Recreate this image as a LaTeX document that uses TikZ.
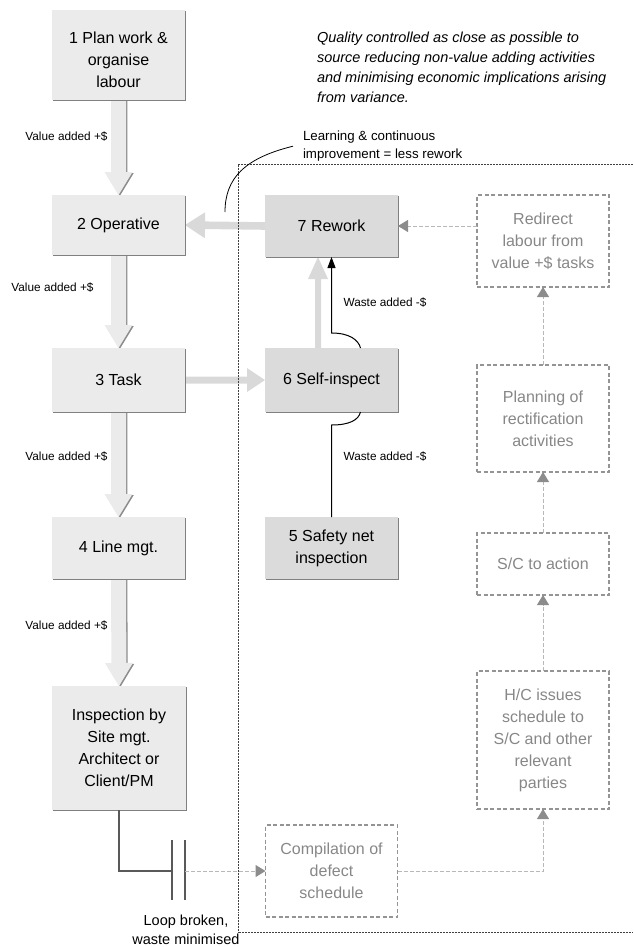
\documentclass[tikz,border=0pt]{standalone}
\usepackage{fontspec}
\setmainfont{Liberation Sans}
\usetikzlibrary{arrows.meta,shadows,calc,backgrounds}
\newcommand\blkarrow[6]{%
  \coordinate (tmph) at ($(#2)!#5!(#1)$);
  \fill[#6] ($(#1)!#3!-90:(#2)$) -- ($(tmph)!#3!-90:(#2)$) -- ($(tmph)!#4!-90:(#2)$) -- (#2)
    -- ($(tmph)!#4!90:(#2)$) -- ($(tmph)!#3!90:(#2)$) -- ($(#1)!#3!90:(#2)$) -- cycle;}
\begin{document}
\begin{tikzpicture}[x=1pt,y=-1pt,
  every node/.style={inner sep=0pt,outer sep=0pt},
  boxtext/.style={font=\fontsize{16}{22}\selectfont,align=center},
  lbox/.style={boxtext,rectangle,minimum width=133pt,fill=black!8,
    drop shadow={shadow xshift=1.4pt,shadow yshift=-1.4pt,fill=black!50,opacity=1}},
  rbox/.style={boxtext,rectangle,minimum width=133pt,fill=black!14,
    drop shadow={shadow xshift=1.4pt,shadow yshift=-1.4pt,fill=black!50,opacity=1}},
  dbox/.style={boxtext,rectangle,minimum width=132pt,draw=black!42,line width=1.3pt,
    dash pattern=on 4pt off 2.5pt,text=black!47},
  lab/.style={font=\fontsize{11.8}{14}\selectfont},
  dasharrow/.style={draw=black!28,line width=1pt,dash pattern=on 4pt off 2pt,
    -{Triangle[width=12pt,length=10pt,color=black!45]}},
  blkline/.style={draw=black,line width=1pt},
  darkline/.style={draw=black!65,line width=1.1pt},
  frame/.style={draw=black!75,line width=0.6pt,dash pattern=on 0.6pt off 0.9pt}]
\useasboundingbox (0,0) rectangle (633,947);

% dotted frame
\draw[frame] (633,164) -- (238,164) -- (238,932) -- (633,932);

% left column
\node[lbox,minimum height=90pt] (b1) at (118.5,55) {\rule{0pt}{21.5pt}1 Plan work \&\\organise\\labour};
\node[lbox,minimum height=60pt] (b2) at (118.5,225) {2 Operative};
\node[lbox,minimum height=64pt] (b3) at (118.5,380) {3 Task};
\node[lbox,minimum height=62pt] (b4) at (118.5,548) {4 Line mgt.};
\node[lbox,minimum height=124pt,minimum width=134pt] (b5) at (119,748) {Inspection by\\Site mgt.\\Architect or\\Client/PM};

% middle column
\node[rbox,minimum height=62pt] (b7) at (331.5,226) {7 Rework};
\node[rbox,minimum height=64pt] (b6) at (331.5,380) {6 Self-inspect};
\node[rbox,minimum height=62pt] (b8) at (331.5,548) {5 Safety net\\inspection};

% right column (dashed)
\node[dbox,minimum height=92pt] (d1) at (543,241) {Redirect\\labour from\\value +\$ tasks};
\node[dbox,minimum height=107pt] (d2) at (543,418.5) {Planning of\\rectification\\activities};
\node[dbox,minimum height=62pt] (d3) at (543,564) {S/C to action};
\node[dbox,minimum height=138pt] (d4) at (543,740) {H/C issues\\schedule to\\S/C and other\\relevant\\parties};
\node[dbox,minimum height=92pt] (d5) at (331.5,871) {Compilation of\\defect\\schedule};

% texts
\node[anchor=north west,align=left,font=\itshape\fontsize{14.5}{20}\selectfont] (q) at (317,32)
  {Quality controlled as close as possible to\\source reducing non-value adding activities\\and minimising economic implications arising\\from variance.};
\node[anchor=north west,align=left,font=\fontsize{13.3}{18}\selectfont] (learn) at (303,131)
  {Learning \& continuous\\improvement = less rework};
\node[lab] (v1) at (66.5,137) {Value added +\$};
\node[lab] (v2) at (52.5,288) {Value added +\$};
\node[lab] (v3) at (66.5,457) {Value added +\$};
\node[lab] (v4) at (66.5,626) {Value added +\$};
\node[lab] (w1) at (385,303) {Waste added -\$};
\node[lab] (w2) at (385,457) {Waste added -\$};
\node[align=center,font=\fontsize{14.5}{19}\selectfont] (loop) at (186,930) {Loop broken,\\waste minimised};

% block arrows
\begin{scope}[on background layer]
  \begin{scope}[transform canvas={shift={(1.3pt,-1pt)}}]
    \blkarrow{b1.south}{b2.north}{7.5pt}{14pt}{23pt}{black!45}
    \blkarrow{b2.south}{b3.north}{7.5pt}{14pt}{23pt}{black!45}
    \blkarrow{b3.south}{b4.north}{7.5pt}{14pt}{23pt}{black!45}
    \blkarrow{b4.south}{b5.north}{7.5pt}{14pt}{23pt}{black!45}
  \end{scope}
  \blkarrow{b1.south}{b2.north}{7.5pt}{14pt}{23pt}{black!8}
  \blkarrow{b2.south}{b3.north}{7.5pt}{14pt}{23pt}{black!8}
  \blkarrow{b3.south}{b4.north}{7.5pt}{14pt}{23pt}{black!8}
  \blkarrow{b4.south}{b5.north}{7.5pt}{14pt}{23pt}{black!8}
  \blkarrow{b7.west}{b2.east}{3.8pt}{13pt}{20pt}{black!15}
  \blkarrow{b3.east}{b6.west}{3.5pt}{12pt}{18pt}{black!15}
  \coordinate (a6) at ($(b6.north)+(-13.5,0)$);
  \coordinate (a7) at ($(b7.south)+(-13.5,0)$);
  \blkarrow{a6}{a7}{3pt}{10pt}{22pt}{black!15}
\end{scope}

% black waste connector with hops
\draw[blkline] (b8.north) -- ($(b6.south)+(0,13)$)
  .. controls ($(b6.south)+(18,13)$) and ($(b6.south)+(27,8)$) .. ($(b6.south)+(29,0)$);
\draw[blkline,-{Triangle[width=8pt,length=11pt]}] ($(b6.north)+(29,0)$)
  .. controls ($(b6.north)+(27,-8)$) and ($(b6.north)+(18,-15)$) .. ($(b6.north)+(0,-15)$) -- (b7.south);

% learning curve
\coordinate (lc) at (225,212);
\draw[blkline,line width=0.8pt] (lc) .. controls (225,178) and (245,158) .. ([xshift=-10pt]learn.west);

% dashed flow
\draw[dasharrow] (d1.west |- b7.east) -- (b7.east);
\draw[dasharrow] (d2.north) -- (d1.south);
\draw[dasharrow] (d3.north) -- (d2.south);
\draw[dasharrow] (d4.north) -- (d3.south);
\draw[dasharrow] (d5.east) -| (d4.south);

% broken loop
\coordinate (k1) at (172,871);
\coordinate (k2) at (185,871);
\draw[darkline] (b5.south) |- (k1);
\draw[darkline] ($(k1)+(0,-31)$) -- ($(k1)+(0,29)$);
\draw[darkline] ($(k2)+(0,-31)$) -- ($(k2)+(0,29)$);
\draw[dasharrow] (k2) -- (d5.west);
\end{tikzpicture}
\end{document}
